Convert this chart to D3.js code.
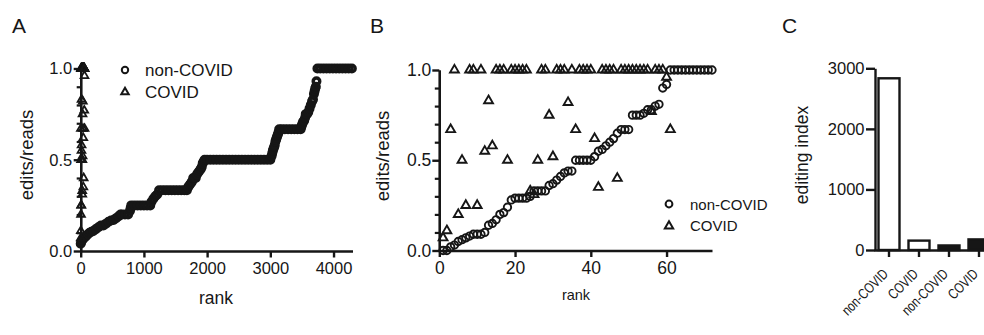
<!DOCTYPE html>
<html><head><meta charset="utf-8">
<script src="https://cdn.jsdelivr.net/npm/d3@7"></script>
<style>
body{margin:0;background:#fff;}
svg{display:block;}
</style></head><body>
<svg id="chart" width="984" height="335"></svg>
<script>
// ---------- DATA ----------
// Panel A: non-COVID edits/reads by rank
const aNonCovid = [
 [0,0.04],[10,0.05],[25,0.06],[50,0.07],[80,0.08],[110,0.09],[140,0.10],[170,0.105],[200,0.11],[240,0.12],
 [280,0.13],[320,0.14],[360,0.14],[400,0.15],[440,0.16],[480,0.167],[520,0.17],[560,0.18],[600,0.19],[630,0.2],
 [650,0.2],[700,0.2],[750,0.2],[780,0.22],[790,0.235],[800,0.25],[850,0.25],[900,0.25],[950,0.25],[1000,0.25],
 [1050,0.25],[1100,0.25],[1120,0.27],[1150,0.286],[1180,0.3],[1210,0.31],[1240,0.333],[1290,0.333],[1340,0.333],[1390,0.333],
 [1440,0.333],[1490,0.333],[1540,0.333],[1590,0.333],[1640,0.333],[1680,0.333],[1700,0.35],[1720,0.36],[1740,0.37],[1760,0.38],
 [1780,0.4],[1800,0.4],[1820,0.4],[1840,0.42],[1860,0.43],[1880,0.44],[1900,0.45],[1915,0.46],[1930,0.48],[1945,0.49],
 [1960,0.5],[2000,0.5],[2050,0.5],[2100,0.5],[2150,0.5],[2200,0.5],[2250,0.5],[2300,0.5],[2350,0.5],[2400,0.5],
 [2450,0.5],[2500,0.5],[2550,0.5],[2600,0.5],[2650,0.5],[2700,0.5],[2750,0.5],[2800,0.5],[2850,0.5],[2900,0.5],
 [2950,0.5],[3000,0.5],[3020,0.52],[3030,0.535],[3040,0.55],[3050,0.56],[3060,0.57],[3070,0.58],[3080,0.6],[3090,0.61],
 [3100,0.62],[3110,0.63],[3120,0.64],[3130,0.65],[3140,0.667],[3180,0.667],[3230,0.667],[3280,0.667],[3330,0.667],[3380,0.667],
 [3430,0.667],[3480,0.667],[3490,0.68],[3500,0.69],[3510,0.7],[3520,0.71],[3535,0.714],[3550,0.73],[3560,0.75],[3580,0.75],
 [3600,0.76],[3620,0.78],[3640,0.8],[3660,0.82],[3675,0.83],[3690,0.86],[3700,0.875],[3710,0.89],[3720,0.9],[3730,0.93],
 [3745,1],[3790,1],[3840,1],[3890,1],[3940,1],[3990,1],[4040,1],[4090,1],[4140,1],[4190,1],[4240,1],[4290,1]
];
// Panel B: non-COVID values, ranks 1..72
const bNonCovid = [0,0,0.02,0.03,0.05,0.06,0.07,0.08,0.09,0.09,
 0.09,0.10,0.14,0.15,0.17,0.20,0.21,0.24,0.28,0.29,
 0.29,0.29,0.29,0.30,0.33,0.33,0.33,0.33,0.36,0.37,
 0.39,0.41,0.43,0.44,0.44,0.50,0.50,0.50,0.50,0.50,
 0.52,0.55,0.56,0.58,0.60,0.62,0.65,0.67,0.67,0.67,
 0.75,0.75,0.75,0.76,0.78,0.78,0.80,0.81,0.90,0.92,
 1,1,1,1,1,1,1,1,1,1,1,1];
// COVID values, ranks 1..61 (shown in panels A and B)
const covid = [0.07,0.11,0.67,1,0.20,0.50,0.25,1,1,0.25,
 1,0.55,0.83,0.58,1,1,1,0.50,1,1,
 1,1,1,0.33,0.31,0.50,1,1,0.75,0.52,
 1,1,1,0.82,1,0.67,1,1,1,1,
 0.62,0.35,1,1,1,1,0.40,1,1,1,
 1,1,1,1,1,0.77,1,1,1,0.96,
 0.67];
const aXTicks = [0,1000,2000,3000,4000];
const bXTicks = [0,20,40,60];
const yTicks = [0,0.5,1.0];
const yMinorTicks = [0.1,0.2,0.3,0.4,0.6,0.7,0.8,0.9];
const seriesNames = ["non-COVID","COVID"];
// Panel C
const cCategories = ["non-COVID","COVID","non-COVID","COVID"];
const cGroups = ["g1","g1","g2","g2"];
const cValues = [2835,155,75,175];
const cYTicks = [0,1000,2000,3000];

// ---------- DRAW ----------
const INK = "#161616";
const FONT = '"Liberation Sans", Arial, Helvetica, sans-serif';
const svg = d3.select("#chart").attr("font-family", FONT);

function styleAxis(g, fs, w){
  g.attr("font-family", FONT).attr("font-size", fs);
  g.select(".domain").attr("stroke", INK).attr("stroke-width", w);
  g.selectAll(".tick line").attr("stroke", INK).attr("stroke-width", w);
  g.selectAll(".tick text").attr("fill", INK);
}
const tri = s => d3.symbol(d3.symbolTriangle, s)();

function panelLetter(t, x){
  svg.append("text").attr("x", x).attr("y", 33).attr("font-size", 21).attr("fill", INK).text(t);
}
function yTitle(t, x, y, fs){
  svg.append("text").attr("transform", `translate(${x},${y}) rotate(-90)`)
    .attr("text-anchor","middle").attr("font-size", fs).attr("fill", INK).text(t);
}

// ===== Panel A =====
const xA = d3.scaleLinear().domain([0,4300]).range([80.7,352.5]);
const yA = d3.scaleLinear().domain([0,1]).range([251,68.5]);
panelLetter("A", 12);
svg.append("g").attr("transform","translate(80.7,0)")
  .call(d3.axisLeft(yA).tickValues(yMinorTicks).tickSize(4).tickFormat("").tickSizeOuter(0))
  .call(g=>styleAxis(g,16.5,2.2));
svg.append("g").attr("transform","translate(80.7,0)")
  .call(d3.axisLeft(yA).tickValues(yTicks).tickSize(7).tickPadding(1.5).tickFormat(d3.format(".1f")).tickSizeOuter(0))
  .call(g=>styleAxis(g,16.5,2.4));
svg.append("g").attr("transform","translate(0,251)")
  .call(d3.axisBottom(xA).tickValues(aXTicks).tickSize(6.5).tickPadding(5).tickFormat(d3.format("d")).tickSizeOuter(0))
  .call(g=>styleAxis(g,16.5,2.4));
yTitle("edits/reads", 33, 155, 18.5);
svg.append("text").attr("x",216).attr("y",304).attr("text-anchor","middle").attr("font-size",17.5).attr("fill",INK).text("rank");

svg.append("g").selectAll("circle").data(aNonCovid).join("circle")
  .attr("cx", d=>xA(d[0])).attr("cy", d=>yA(d[1])).attr("r",3.3)
  .attr("fill","none").attr("stroke",INK).attr("stroke-width",3.4);
svg.append("g").selectAll("path").data(covid).join("path")
  .attr("transform",(d,i)=>`translate(${xA(i+1)},${yA(d)})`).attr("d", tri(26))
  .attr("fill","none").attr("stroke",INK).attr("stroke-width",1.8);

// legend A
const legA = svg.append("g");
legA.append("circle").attr("cx",125).attr("cy",70).attr("r",3.2).attr("fill","none").attr("stroke",INK).attr("stroke-width",2);
legA.append("path").attr("transform","translate(125,92)").attr("d",tri(24)).attr("fill","none").attr("stroke",INK).attr("stroke-width",2);
legA.append("text").attr("x",145).attr("y",75.5).attr("font-size",17).attr("fill",INK).text(seriesNames[0]);
legA.append("text").attr("x",145).attr("y",97.5).attr("font-size",17).attr("fill",INK).text(seriesNames[1]);

// ===== Panel B =====
const xB = d3.scaleLinear().domain([0,72]).range([439.3,712]);
const yB = d3.scaleLinear().domain([0,1]).range([250.5,70]);
panelLetter("B", 370);
svg.append("g").attr("transform","translate(439.3,0)")
  .call(d3.axisLeft(yB).tickValues(yMinorTicks).tickSize(4.5).tickFormat("").tickSizeOuter(0))
  .call(g=>styleAxis(g,17.5,2.2));
svg.append("g").attr("transform","translate(439.3,0)")
  .call(d3.axisLeft(yB).tickValues(yTicks).tickSize(7).tickPadding(1).tickFormat(d3.format(".1f")).tickSizeOuter(0))
  .call(g=>styleAxis(g,17.5,2.4));
svg.append("g").attr("transform","translate(0,250.5)")
  .call(d3.axisBottom(xB).tickValues(bXTicks).tickSize(6.5).tickPadding(4.5).tickFormat(d3.format("d")).tickSizeOuter(0))
  .call(g=>styleAxis(g,17.5,2.4));
yTitle("edits/reads", 389, 156, 18.5);
svg.append("text").attr("x",576).attr("y",300).attr("text-anchor","middle").attr("font-size",14.5).attr("fill",INK).text("rank");

svg.append("g").selectAll("circle").data(bNonCovid).join("circle")
  .attr("cx",(d,i)=>xB(i+1)).attr("cy", d=>yB(d)).attr("r",3.7)
  .attr("fill","none").attr("stroke",INK).attr("stroke-width",1.9);
svg.append("g").selectAll("path").data(covid).join("path")
  .attr("transform",(d,i)=>`translate(${xB(i+1)},${yB(d)})`).attr("d", tri(34))
  .attr("fill","none").attr("stroke",INK).attr("stroke-width",1.9);

const legB = svg.append("g");
legB.append("circle").attr("cx",669).attr("cy",204).attr("r",3.4).attr("fill","none").attr("stroke",INK).attr("stroke-width",2);
legB.append("path").attr("transform","translate(669,226)").attr("d",tri(30)).attr("fill","none").attr("stroke",INK).attr("stroke-width",2);
legB.append("text").attr("x",690).attr("y",209.5).attr("font-size",15).attr("fill",INK).text(seriesNames[0]);
legB.append("text").attr("x",690).attr("y",231).attr("font-size",15).attr("fill",INK).text(seriesNames[1]);

// ===== Panel C =====
const idx = cCategories.map((c,i)=>i);
const xC = d3.scaleBand().domain(idx).range([874,994]).paddingInner(0.3).paddingOuter(0.15);
const yC = d3.scaleLinear().domain([0,3000]).range([250,68.3]);
panelLetter("C", 782);
svg.append("g").attr("transform","translate(875,0)")
  .call(d3.axisLeft(yC).tickValues(cYTicks).tickSize(9).tickPadding(1.5).tickFormat(d3.format("d")).tickSizeOuter(0))
  .call(g=>styleAxis(g,16.5,2.4));
svg.append("g").selectAll("rect").data(cValues).join("rect")
  .attr("x",(d,i)=>xC(i)).attr("width",xC.bandwidth())
  .attr("y",d=>yC(d)).attr("height",d=>yC(0)-yC(d))
  .attr("fill",(d,i)=>cGroups[i]==="g1"?"#fff":INK)
  .attr("stroke",INK).attr("stroke-width",2.4);
svg.append("g").attr("transform","translate(0,250)")
  .call(d3.axisBottom(xC).tickSize(7).tickFormat(i=>cCategories[i]).tickSizeOuter(0))
  .call(g=>styleAxis(g,14.5,2.4))
  .call(g=>g.selectAll(".tick text")
     .attr("x",0).attr("y",0).attr("dy",0)
     .attr("text-anchor","end")
     .attr("transform","translate(0,25) rotate(-45) scale(0.78,1)"));
yTitle("editing index", 808, 155, 17.5);
</script>
</body></html>
